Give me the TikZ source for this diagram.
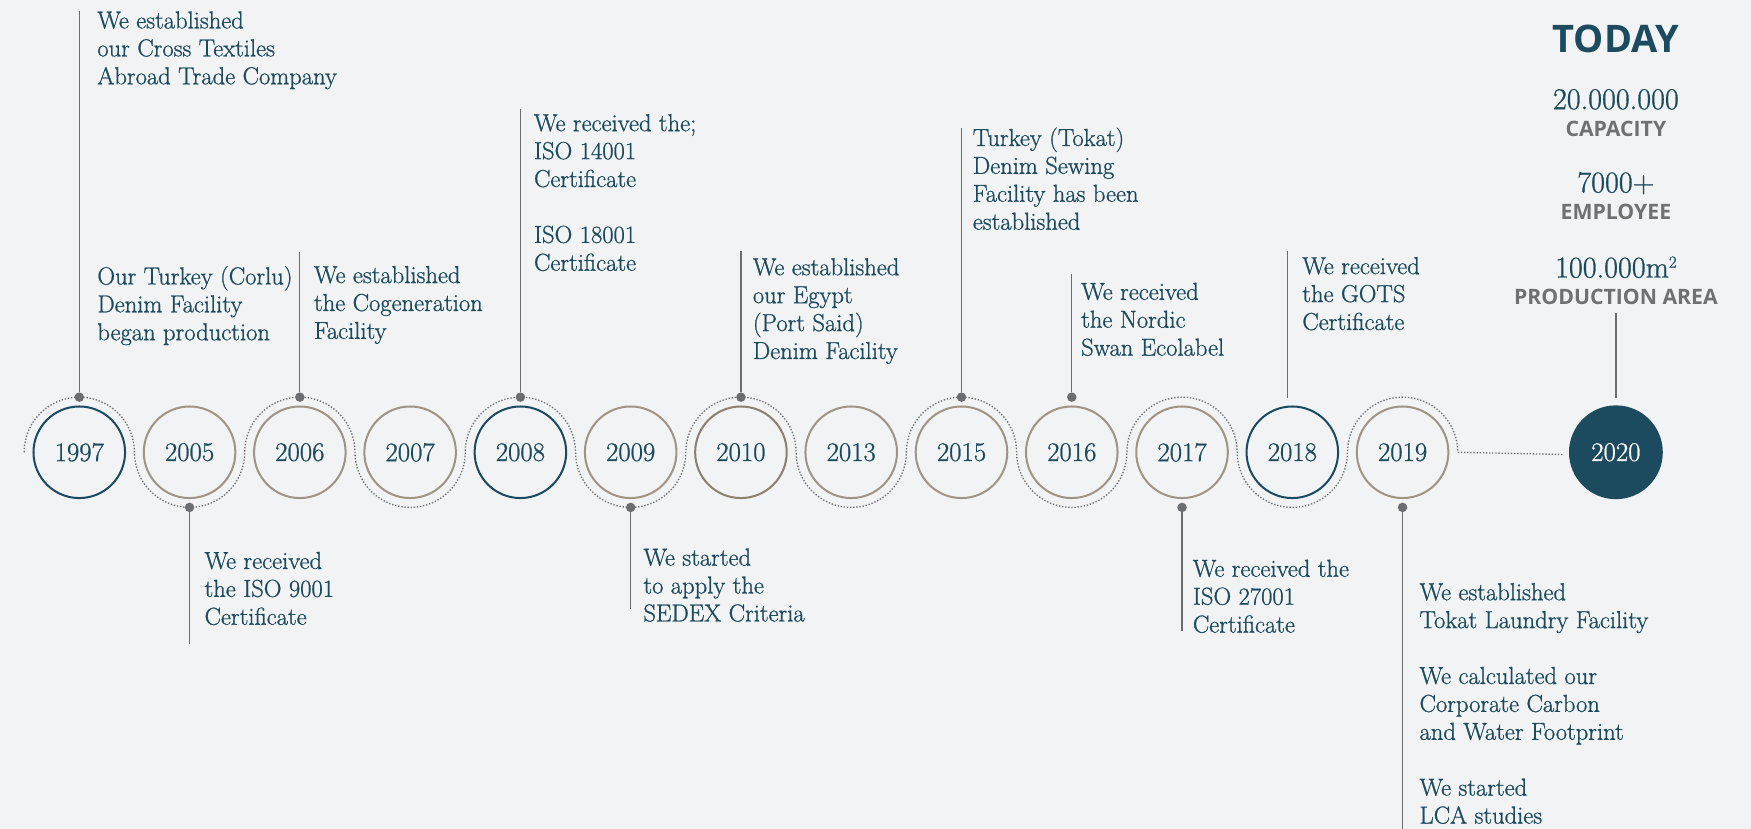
\documentclass[tikz,border=0pt]{standalone}
\usepackage{fontspec}
\newfontfamily\headsans{Open Sans}
\newfontfamily\notefont{Latin Modern Roman}[FakeBold=0.9]
\usetikzlibrary{calc}

\definecolor{paper}{RGB}{241,243,245}
\definecolor{ink}{RGB}{28,74,95}
\definecolor{navy}{RGB}{26,75,99}
\definecolor{sand}{RGB}{160,149,132}
\definecolor{sanddark}{RGB}{140,128,110}
\definecolor{stemgray}{RGB}{108,109,112}
\definecolor{labelgray}{RGB}{112,112,112}

\tikzset{
  year/.style={circle, draw=sand, line width=1.8pt, minimum size=82pt,
    inner sep=0pt, text=ink, font=\notefont\fontsize{24}{24}\selectfont},
  yearblue/.style={year, draw=navy},
  yeardark/.style={year, draw=sanddark},
  yearnow/.style={circle, fill=ink, minimum size=84pt, inner sep=0pt,
    text=white, font=\notefont\fontsize{24}{24}\selectfont},
  note/.style={anchor=north west, inner sep=0pt, align=left, text=ink,
    font=\notefont\fontsize{22}{25}\selectfont},
  stem/.style={draw=stemgray, line width=1.1pt},
  knob/.style={circle, fill=stemgray, inner sep=0pt, minimum size=8.5pt},
  wave/.style={draw=stemgray, line width=1.2pt, dash pattern=on 1.2pt off 1.6pt},
  bignum/.style={inner sep=0pt, text=ink, font=\notefont\fontsize{27}{27}\selectfont},
  caption/.style={inner sep=0pt, text=labelgray, font=\headsans\bfseries\fontsize{19}{19}\selectfont},
}

\begin{document}
\begin{tikzpicture}[x=1pt, y=1pt]
\useasboundingbox[fill=paper] (0,0) rectangle (1568,-742);

\def\R{49.375}

% year circles along the timeline
\foreach \yr/\i/\sty in {1997/0/yearblue, 2005/1/year, 2006/2/year, 2007/3/year,
    2008/4/yearblue, 2009/5/year, 2010/6/yeardark, 2013/7/year, 2015/8/year,
    2016/9/year, 2017/10/year, 2018/11/yearblue, 2019/12/year}
  \node[\sty] (c\yr) at ({71+98.75*\i}, -405) {\yr};
\node[yearnow] (c2020) at (1447, -405) {2020};

% dotted wave winding over and under the circles
\coordinate (wstart) at ($(c1997)+(-\R,0)$);
\coordinate (wend) at (1400, -407);
\draw[wave] (wstart)
  arc[start angle=180, end angle=0,   radius=\R]
  arc[start angle=180, end angle=360, radius=\R]
  arc[start angle=180, end angle=0,   radius=\R]
  arc[start angle=180, end angle=360, radius=\R]
  arc[start angle=180, end angle=0,   radius=\R]
  arc[start angle=180, end angle=360, radius=\R]
  arc[start angle=180, end angle=0,   radius=\R]
  arc[start angle=180, end angle=360, radius=\R]
  arc[start angle=180, end angle=0,   radius=\R]
  arc[start angle=180, end angle=360, radius=\R]
  arc[start angle=180, end angle=0,   radius=\R]
  arc[start angle=180, end angle=360, radius=\R]
  arc[start angle=180, end angle=0,   radius=\R]
  -- (wend);

% knobs where the stems meet the wave
\foreach \yr in {1997, 2006, 2008, 2010, 2015, 2016}
  \node[knob] (k\yr) at ($(c\yr)+(0,\R)$) {};
\foreach \yr in {2005, 2009, 2017, 2019}
  \node[knob] (k\yr) at ($(c\yr)+(0,-\R)$) {};

% free ends of the stems
\coordinate (t1997) at ($(c1997)+(0,395)$);
\coordinate (t2005) at ($(c2005)+(0,-172)$);
\coordinate (t2006) at ($(c2006)+(0,179)$);
\coordinate (t2008) at ($(c2008)+(0,307)$);
\coordinate (t2009) at ($(c2009)+(0,-140)$);
\coordinate (t2010) at ($(c2010)+(0,180)$);
\coordinate (t2015) at ($(c2015)+(0,290)$);
\coordinate (t2016) at ($(c2016)+(0,160)$);
\coordinate (t2017) at ($(c2017)+(0,-160)$);
\coordinate (t2019) at ($(c2019)+(0,-337)$);
\coordinate (t2018a) at (1153, -225);
\coordinate (t2018b) at (1153, -356);
\coordinate (t2020a) at (1447, -280);
\coordinate (t2020b) at (1447, -356);

\foreach \yr in {1997, 2005, 2006, 2008, 2009, 2010, 2015, 2016, 2017, 2019}
  \draw[stem] (t\yr) -- (k\yr);
\draw[stem] (t2018a) -- (t2018b);
\draw[stem] (t2020a) -- (t2020b);

% milestone notes above the line
\node[note] (n1997a) at (87, -10) {We established\\our Cross Textiles\\Abroad Trade Company};
\node[note] (n1997b) at (87, -238) {Our Turkey (Corlu)\\Denim Facility\\began production};
\node[note] (n2006) at (281, -238) {We established\\the Cogeneration\\Facility};
\node[note] (n2008) at (478, -102) {We received the;\\ISO 14001\\Certificate\\[25pt]ISO 18001\\Certificate};
\node[note] (n2010) at (674, -231) {We established\\our Egypt\\(Port Said)\\Denim Facility};
\node[note] (n2015) at (871, -114) {Turkey (Tokat)\\Denim Sewing\\Facility has been\\established};
\node[note] (n2016) at (968, -253) {We received\\the Nordic\\Swan Ecolabel};
\node[note] (n2018) at (1166, -230) {We received\\the GOTS\\Certificate};

% milestone notes below the line
\node[note] (n2005) at (183, -494) {We received\\the ISO 9001\\Certificate};
\node[note] (n2009) at (576, -491) {We started\\to apply the\\SEDEX Criteria};
\node[note] (n2017) at (1068, -501) {We received the\\ISO 27001\\Certificate};
\node[note] (n2019) at (1271, -522) {We established\\Tokat Laundry Facility\\[25pt]We calculated our\\Corporate Carbon\\and Water Footprint\\[25pt]We started\\LCA studies};

% present-day figures
\node[inner sep=0pt, text=ink, font=\headsans\bfseries\fontsize{34}{34}\selectfont] (today) at (1447, -35) {TODAY};
\node[bignum] (cap) at (1447, -89) {20.000.000};
\node[caption] (capl) at (1447, -115) {CAPACITY};
\node[bignum] (emp) at (1447, -164) {7000+};
\node[caption] (empl) at (1447, -190) {EMPLOYEE};
\node[bignum, anchor=base] (area) at (1447, -248.5) {100.000m\raisebox{0.33em}{\fontsize{15}{15}\selectfont 2}};
\node[caption] (areal) at (1447, -266) {PRODUCTION AREA};
\end{tikzpicture}
\end{document}
